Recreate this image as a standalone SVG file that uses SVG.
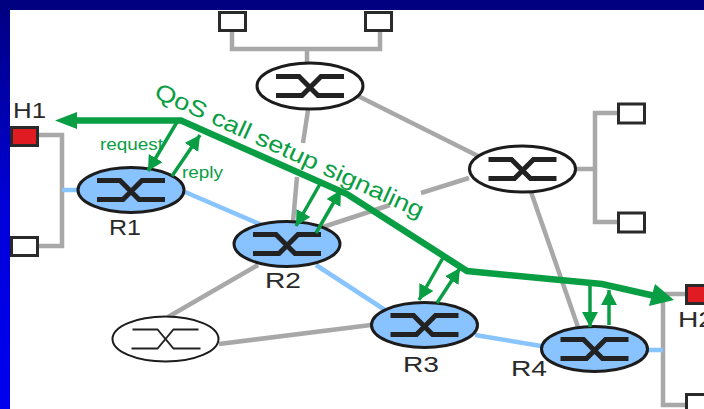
<svg xmlns="http://www.w3.org/2000/svg" width="704" height="409" viewBox="0 0 704 409">
<defs>
<linearGradient id="side" x1="0" y1="0" x2="0" y2="1"><stop offset="0" stop-color="#000080"/><stop offset="0.5" stop-color="#0000d8"/><stop offset="1" stop-color="#0000f0"/></linearGradient>
<marker id="small" markerUnits="userSpaceOnUse" markerWidth="18" markerHeight="18" refX="15" refY="8" orient="auto"><path d="M0 0L15 8L0 16Z" fill="#0a9e44"/></marker>
<g id="sw"><path d="M-34 -9.500H-11L8 9.500H34M-34 9.500H-8L11 -9.500H34" fill="none" stroke="#222" stroke-width="5"/></g>
<g id="swthin"><path d="M-33 -9.500H-8L8 9.500H35M-34 9.500H-8L8 -9.500H33" fill="none" stroke="#222" stroke-width="1.800"/></g>
</defs>
<style>
text{font-family:"Liberation Sans",Arial,sans-serif}
.lab{font-size:21.500px;fill:#2a2a2a}
.g{font-size:16px;fill:#0a9e44}
.gr{fill:none;stroke:#a8a8a8;stroke-width:4.500}
.bl{fill:none;stroke:#88c4ff;stroke-width:4.500}
.sm{fill:none;stroke:#0a9e44;stroke-width:3.500}
.r{fill:#88c2ff;stroke:#1c1c1c;stroke-width:3}
.w{fill:#fff;stroke:#1c1c1c;stroke-width:3}
.h{fill:#fff;stroke:#2a2a2a;stroke-width:3}
.hr{fill:#e01c22;stroke:#2a2a2a;stroke-width:3}
</style>
<rect width="704" height="409" fill="#fff"/>
<rect width="704" height="10" fill="#000080"/>
<rect width="10" height="409" fill="url(#side)"/>
<g id="connectors">
<path class="gr" d="M232 32V49H380V32M307 49V62"/>
<path class="gr" d="M308 110L303 143M297 177L293 222"/>
<path class="gr" d="M358 96L480 157"/>
<path class="gr" d="M469 178L421 193M390 205L320 228"/>
<path class="gr" d="M531 192L578 327"/>
<path class="gr" d="M617 113H595V222H617M576 169H595"/>
<path class="gr" d="M39 135H62V246H39"/>
<path class="gr" d="M685 294H663V405H685"/>
<path class="gr" d="M258 265L168 317"/>
<path class="gr" d="M219 344L371 325"/>
<path class="bl" d="M62 190H77M185 192L264 226M316 265L385 310M475 335L541 346M648 350H663"/>
</g>
<g id="node-top"><ellipse class="w" cx="310" cy="86" rx="53" ry="23"/><use href="#sw" x="310" y="86"/></g>
<g id="node-right"><ellipse class="w" cx="522.500" cy="169" rx="53" ry="23"/><use href="#sw" x="522.500" y="169"/></g>
<g id="node-bottom"><ellipse class="w" cx="165.500" cy="339" rx="53" ry="22.500" style="stroke-width:2"/><use href="#swthin" x="165.500" y="339"/></g>
<g id="R1"><ellipse class="r" cx="131" cy="190" rx="53" ry="22.500"/><use href="#sw" x="131" y="190"/><text class="lab" x="109" y="235" textLength="32" lengthAdjust="spacingAndGlyphs">R1</text></g>
<g id="R2"><ellipse class="r" cx="287" cy="244" rx="53" ry="22.500"/><use href="#sw" x="287" y="244"/><text class="lab" x="265" y="288" textLength="36" lengthAdjust="spacingAndGlyphs">R2</text></g>
<g id="R3"><ellipse class="r" cx="424.500" cy="325" rx="53" ry="22.500"/><use href="#sw" x="424.500" y="325"/><text class="lab" x="403" y="372" textLength="36" lengthAdjust="spacingAndGlyphs">R3</text></g>
<g id="R4"><ellipse class="r" cx="594.500" cy="349" rx="53" ry="22.500"/><use href="#sw" x="594.500" y="349"/><text class="lab" x="511" y="376" textLength="36" lengthAdjust="spacingAndGlyphs">R4</text></g>
<g id="H1"><rect class="hr" x="11.500" y="127.500" width="26" height="18"/><text class="lab" x="13" y="118" textLength="33" lengthAdjust="spacingAndGlyphs">H1</text></g>
<g id="H2"><rect class="hr" x="686.500" y="285.500" width="26" height="18"/><text class="lab" x="678" y="327" textLength="36" lengthAdjust="spacingAndGlyphs">H2</text></g>
<g id="host-left"><rect class="h" x="11.500" y="237.500" width="26" height="18"/></g>
<g id="host-top-left"><rect class="h" x="219.500" y="12.500" width="26" height="18"/></g>
<g id="host-top-right"><rect class="h" x="365.500" y="12.500" width="26" height="18"/></g>
<g id="host-right-upper"><rect class="h" x="618.500" y="104" width="26" height="19"/></g>
<g id="host-right-lower"><rect class="h" x="618.500" y="213" width="26" height="19"/></g>
<g id="host-bottom-right"><rect class="h" x="686.500" y="394.500" width="26" height="20"/></g>
<g id="signaling">
<path fill="none" stroke="#0a9e44" stroke-width="6.500" d="M72 120.500H181L347 194L467 271L602 284L655 296"/>
<path d="M55 120.500L77 112V129Z" fill="#0a9e44"/>
<path d="M674 300L649 306L655 284Z" fill="#0a9e44"/>
<path class="sm" marker-end="url(#small)" d="M177 122L148 171"/>
<path class="sm" marker-end="url(#small)" d="M172 176L200 135"/>
<path class="sm" marker-end="url(#small)" d="M320 184L296 226"/>
<path class="sm" marker-end="url(#small)" d="M316 233L341 190"/>
<path class="sm" marker-end="url(#small)" d="M444 256L419 300"/>
<path class="sm" marker-end="url(#small)" d="M437 303L460 268"/>
<path class="sm" marker-end="url(#small)" d="M590 285V327"/>
<path class="sm" marker-end="url(#small)" d="M609 325V290"/>
<text class="g" x="100" y="150" textLength="63" lengthAdjust="spacingAndGlyphs">request</text>
<text class="g" x="182" y="178" textLength="41" lengthAdjust="spacingAndGlyphs">reply</text>
<text x="0" y="0" transform="translate(153 97) rotate(24.500)" font-size="23" fill="#0a9e44" textLength="293" lengthAdjust="spacingAndGlyphs">QoS call setup signaling</text>
</g>
</svg>
